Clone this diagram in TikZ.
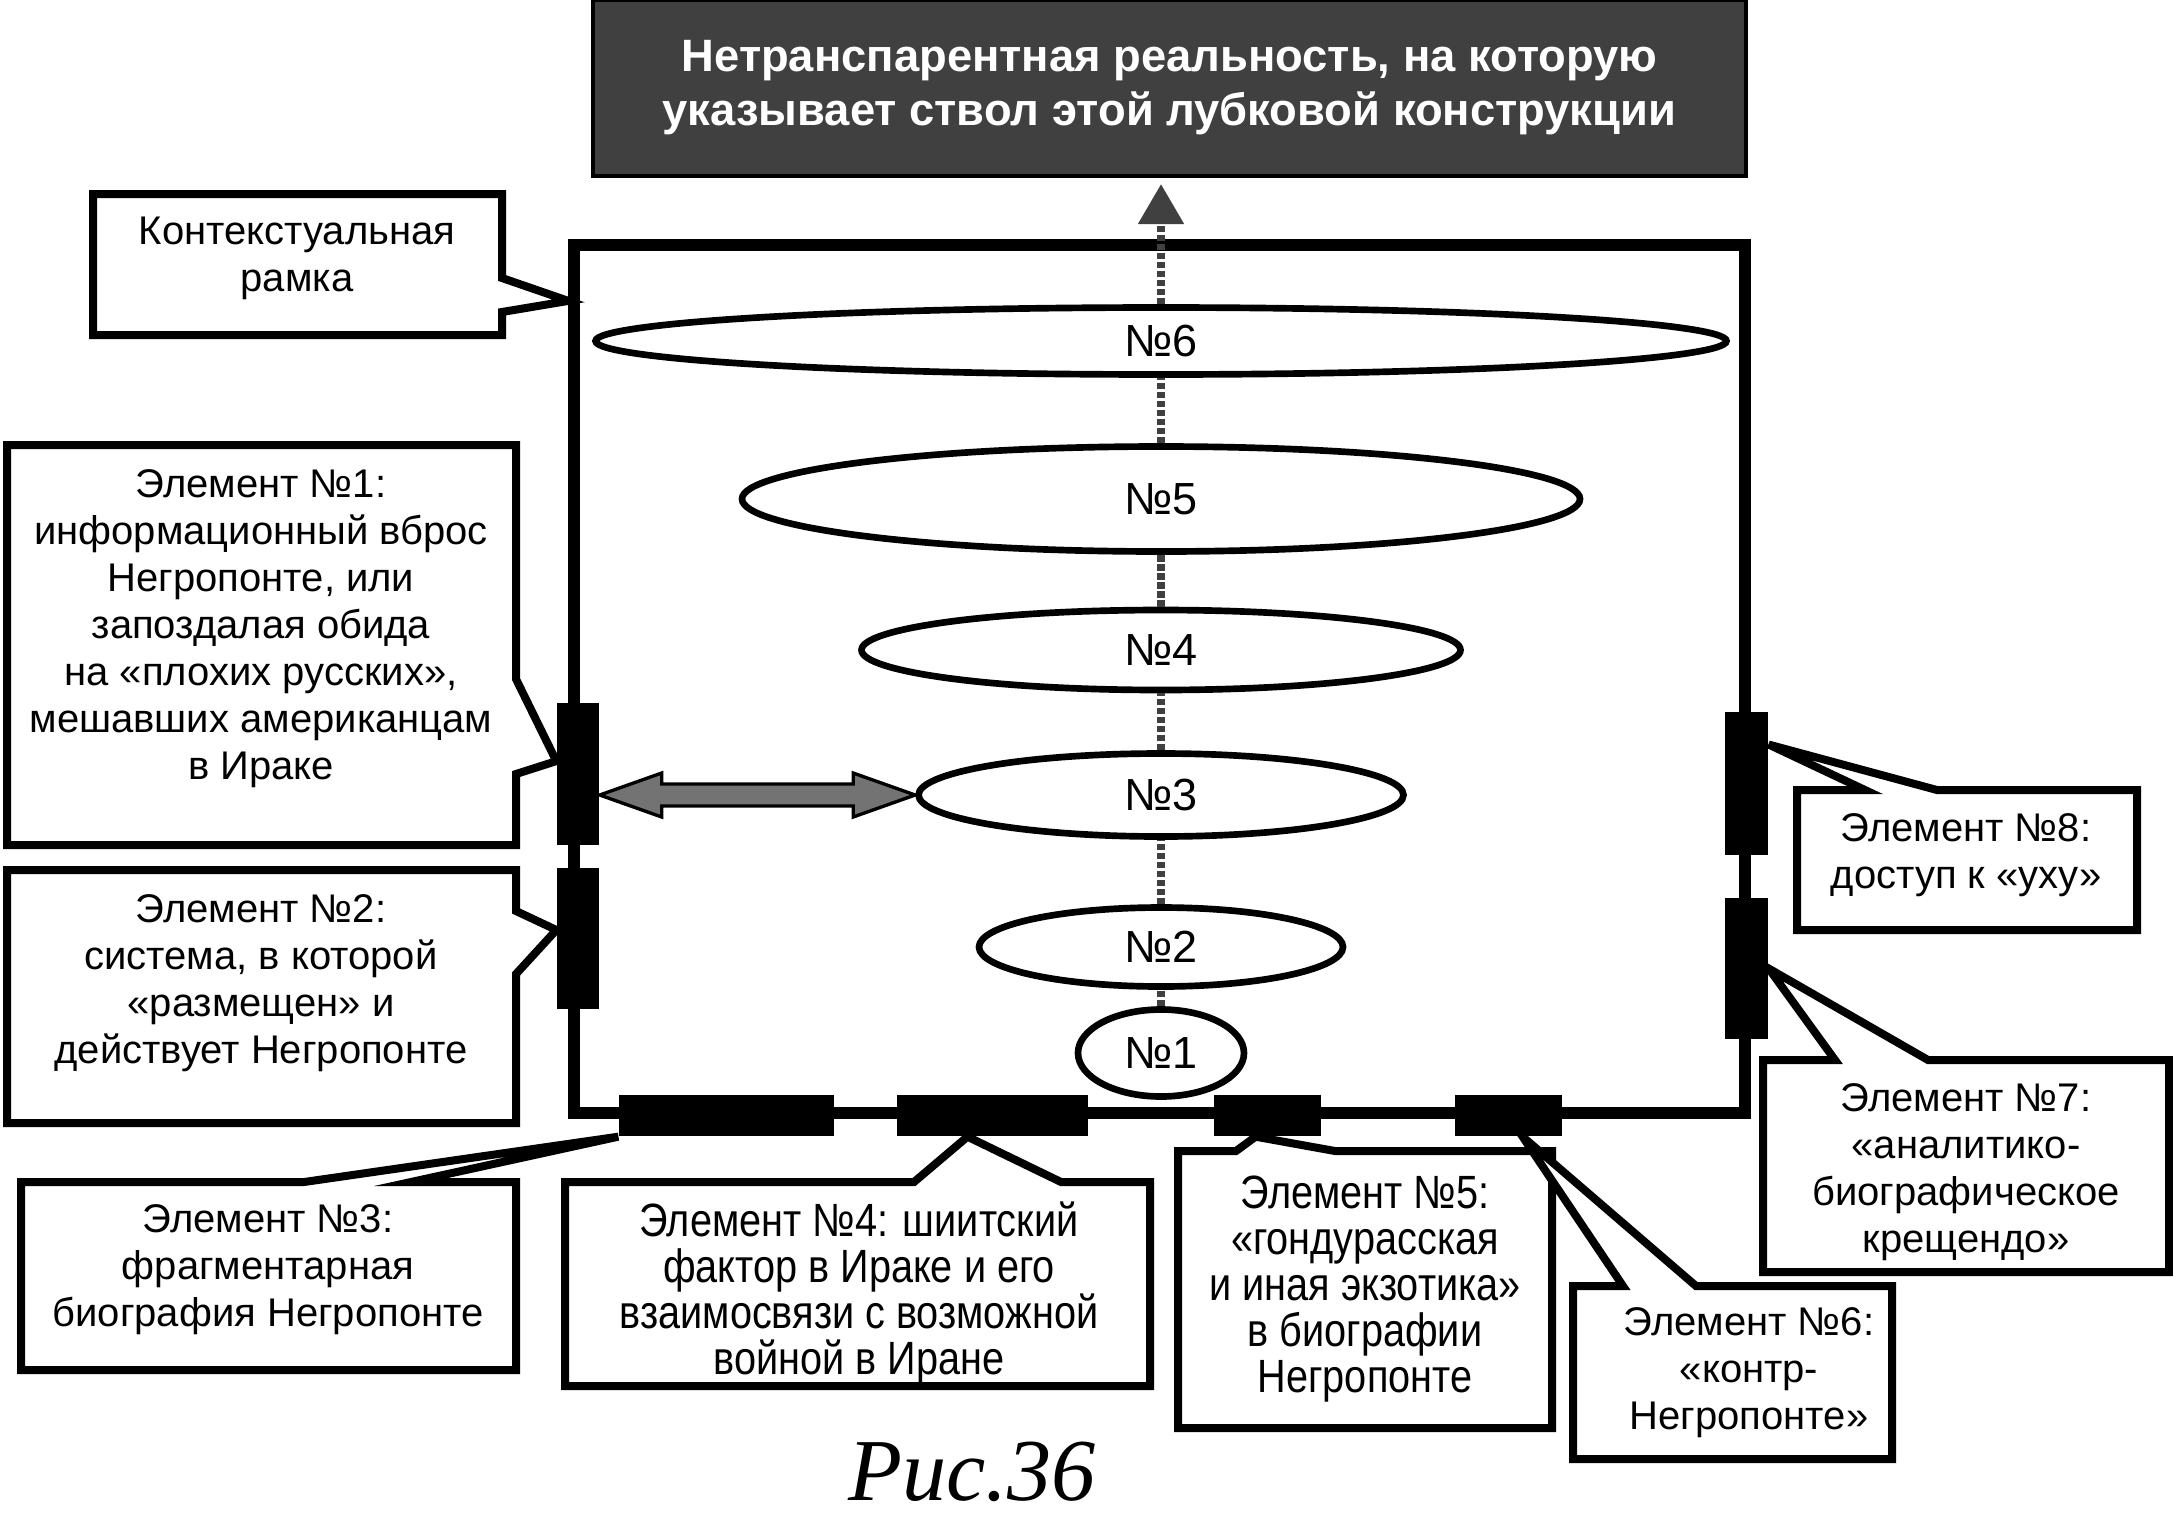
\documentclass[tikz,border=0pt]{standalone}
\usepackage{fontspec}
\setmainfont{Liberation Sans}
\newfontfamily\narrowfont[FakeStretch=0.85]{Liberation Sans}
\newfontfamily\headfont{Liberation Sans Bold}
\newfontfamily\captionfont{Liberation Serif}
\usetikzlibrary{arrows.meta, shapes.geometric, calc}
\newlength{\px}
\setlength{\px}{0.3pt}

\begin{document}
\begin{tikzpicture}[x=0.3pt, y=-0.3pt]

% styles
\tikzstyle{txt}=[align=center, inner sep=0pt, font={\fontsize{12}{14.1}\selectfont}]
\tikzstyle{narrow}=[align=center, inner sep=0pt, font={\narrowfont\fontsize{14}{13.8}\selectfont}]
\tikzstyle{callout}=[draw, line width=2.4pt, fill=white, line join=miter]
\tikzstyle{oval}=[ellipse, draw, fill=white, line width=2pt, inner sep=0pt, font={\fontsize{13.5}{15}\selectfont}]
\tikzstyle{slot}=[fill=black, inner sep=0pt]
\tikzstyle{stem}=[line width=2.4pt, gray!50!black, dash pattern=on 2pt off 0.7pt]

\useasboundingbox (0,0) rectangle (2173,1522);

% target
\node[draw, line width=1.2pt, fill=black!75, text=white, inner sep=0pt,
      minimum width=1153\px, minimum height=176\px, align=center,
      font={\headfont\fontsize{13.6}{16.2}\selectfont}] (reality) at (1169.5,88)
      {Нетранспарентная реальность, на которую\\указывает ствол этой лубковой конструкции};

% frame
\node[draw, line width=3.4pt, inner sep=0pt, minimum width=1171\px, minimum height=868\px] (frame) at (1159.5,679) {};

% ovals
\node[oval, minimum width=1131\px, minimum height=67\px]  (n6) at (1161,341)  {№6};
\node[oval, minimum width=838\px,  minimum height=105\px] (n5) at (1161,499)  {№5};
\node[oval, minimum width=599\px,  minimum height=80\px]  (n4) at (1161,650)  {№4};
\node[oval, minimum width=485\px,  minimum height=83\px]  (n3) at (1161,795)  {№3};
\node[oval, minimum width=364\px,  minimum height=79\px]  (n2) at (1161,947)  {№2};
\node[oval, minimum width=166\px,  minimum height=87\px]  (n1) at (1161,1053) {№1};

% stem
\foreach \a/\b in {n1/n2, n2/n3, n3/n4, n4/n5, n5/n6}
  \draw[stem] (\a) -- (\b);
\draw[stem, shorten >=1.8pt, -{Triangle[width=13.2pt, length=12pt]}] (n6) -- (n6 |- reality.south);

% slots on the frame
\node[slot, minimum width=42\px,  minimum height=142\px] (m1) at (578,774)    {};
\node[slot, minimum width=42\px,  minimum height=141\px] (m2) at (578,938.5)  {};
\node[slot, minimum width=215\px, minimum height=41\px]  (m3) at (726.5,1115.5) {};
\node[slot, minimum width=191\px, minimum height=41\px]  (m4) at (992.5,1115.5) {};
\node[slot, minimum width=107\px, minimum height=41\px]  (m5) at (1267.5,1115.5) {};
\node[slot, minimum width=107\px, minimum height=41\px]  (m6) at (1508.5,1115.5) {};
\node[slot, minimum width=43\px,  minimum height=141\px] (m7) at (1746.5,968.5) {};
\node[slot, minimum width=43\px,  minimum height=143\px] (m8) at (1746.5,783.5) {};

% double arrow
\coordinate (dl) at (m1.east |- n3.west);
\draw[line width=1pt, fill=black!55, line join=miter] (dl) -- ++(62,-22) -- ++(0,11) -- ($(n3.west)+(-62,-11)$) -- ++(0,-11)
  -- (n3.west) -- ++(-62,22) -- ++(0,-11) -- ($(dl)+(62,11)$) -- ++(0,11) -- cycle;

% callouts
\draw[callout] (93,194) -- (502,194) -- (502,278) -- ($(frame.north west)!0.07!(frame.south west)$) -- (502,312) -- (502,335) -- (93,335) -- cycle;
\draw[callout] (7,445) -- (516,445) -- (516,679) -- ($(m1.north west)!0.41!(m1.south west)$) -- (516,774) -- (516,845) -- (7,845) -- cycle;
\draw[callout] (7,870) -- (516,870) -- (516,911) -- ($(m2.north west)!0.44!(m2.south west)$) -- (516,974) -- (516,1123) -- (7,1123) -- cycle;
\draw[callout] (21,1182) -- (304,1182) -- (m3.south west) -- (411,1182) -- (516,1182) -- (516,1370) -- (21,1370) -- cycle;
\draw[callout] (565,1182) -- (914,1182) -- ($(m4.south west)!0.37!(m4.south east)$) -- (1061,1182) -- (1150,1182) -- (1150,1386) -- (565,1386) -- cycle;
\draw[callout] (1178,1151) -- (1236,1151) -- ($(m5.south west)!0.39!(m5.south east)$) -- (1335,1151) -- (1552,1151) -- (1552,1428) -- (1178,1428) -- cycle;
\draw[callout] (1573,1286) -- (1623,1286) -- ($(m6.south west)!0.63!(m6.south east)$) -- (1696,1286) -- (1892,1286) -- (1892,1459) -- (1573,1459) -- cycle;
\draw[callout] (1763,1060) -- (1835,1060) -- (m7.east) -- (1928,1060) -- (2169,1060) -- (2169,1272) -- (1763,1272) -- cycle;
\draw[callout] (1797,790) -- (1865,790) -- ($(m8.north east)!0.23!(m8.south east)$) -- (1937,790) -- (2137,790) -- (2137,930) -- (1797,930) -- cycle;

\node[txt] (ctx) at (297,258) {Контекстуальная\\рамка};
\node[txt] (e1) at (261,629) {Элемент №1:\\информационный вброс\\Негропонте, или\\запоздалая обида\\на «плохих русских»,\\мешавших американцам\\в Ираке};
\node[txt] (e2) at (261,983) {Элемент №2:\\система, в которой\\«размещен» и\\действует Негропонте};
\node[txt] (e3) at (268,1270) {Элемент №3:\\фрагментарная\\биография Негропонте};
\node[narrow] (e4) at (859,1293) {Элемент №4: шиитский\\фактор в Ираке и его\\взаимосвязи с возможной\\войной в Иране};
\node[narrow] (e5) at (1365,1289) {Элемент №5:\\«гондурасская\\и иная экзотика»\\в биографии\\Негропонте};
\node[txt] (e6) at (1749,1373) {Элемент №6:\\«контр-\\Негропонте»};
\node[txt] (e7) at (1966,1172) {Элемент №7:\\«аналитико-\\биографическое\\крещендо»};
\node[txt] (e8) at (1966,855) {Элемент №8:\\доступ к «уху»};

% caption
\node[anchor=base, inner sep=0pt, font={\captionfont\itshape\fontsize{26.5}{30}\selectfont}] (fig) at (972,1500) {Рис.36};

\end{tikzpicture}
\end{document}
